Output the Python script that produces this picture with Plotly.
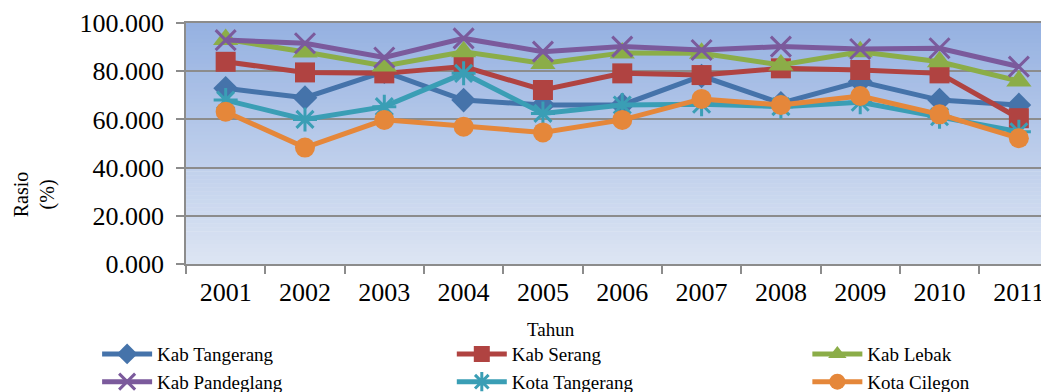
import plotly.graph_objects as go

years = ["2001", "2002", "2003", "2004", "2005", "2006", "2007", "2008", "2009", "2010", "2011"]

kab_tangerang = [72.9, 69.0, 79.8, 68.0, 66.0, 66.0, 78.0, 66.7, 75.7, 68.0, 66.0]
kab_serang = [83.9, 79.5, 79.1, 81.9, 72.2, 79.1, 78.4, 81.2, 80.5, 79.1, 60.5]
kab_lebak = [93.2, 88.0, 82.2, 88.1, 83.2, 87.6, 87.4, 82.6, 88.1, 83.9, 75.9]
kab_pandeglang = [92.9, 91.6, 85.7, 93.6, 88.1, 90.2, 88.8, 90.2, 89.2, 89.5, 81.9]
kota_tangerang = [68.0, 60.0, 65.3, 79.1, 62.5, 66.0, 66.3, 65.3, 67.1, 61.1, 54.9]
kota_cilegon = [63.2, 48.3, 59.8, 57.0, 54.6, 59.8, 68.5, 66.0, 69.7, 62.1, 52.2]

series_names = ["Kab Tangerang", "Kab Serang", "Kab Lebak", "Kab Pandeglang", "Kota Tangerang", "Kota Cilegon"]
series_values = [kab_tangerang, kab_serang, kab_lebak, kab_pandeglang, kota_tangerang, kota_cilegon]

colors = ["#4573AA", "#B04341", "#8BAD48", "#7B5A9C", "#3A9EB5", "#E5873A"]
symbols = ["diamond", "square", "triangle-up", "x-thin-open", "asterisk-open", "circle"]
sizes = [19, 20, 22, 20, 20, 20]
legend_ids = ["legend", "legend2", "legend3", "legend", "legend2", "legend3"]

FONT = "Liberation Serif, Times New Roman, serif"

fig = go.Figure()
for name, vals, c, s, sz, lg in zip(series_names, series_values, colors, symbols, sizes, legend_ids):
    open_sym = s.endswith("open")
    fig.add_trace(go.Scatter(
        x=years, y=vals, name=name, mode="lines+markers", legend=lg,
        line=dict(color=c, width=5),
        marker=dict(symbol=s, size=sz, color=c,
                    line=dict(color=c, width=3 if open_sym else 0)),
    ))

# vertical gradient background of the plot area
n = 60
top = (0x95, 0xB1, 0xE1)
bot = (0xDD, 0xE5, 0xF3)
shapes = []
for i in range(n):
    t = (i + 0.5) / n
    col = tuple(round(bot[k] + (top[k] - bot[k]) * t) for k in range(3))
    shapes.append(dict(type="rect", xref="x domain", yref="y domain",
                       x0=0, x1=1, y0=i / n, y1=(i + 1) / n + 0.002,
                       fillcolor="rgb(%d,%d,%d)" % col, line=dict(width=0), layer="below"))

leg_common = dict(orientation="v", xanchor="left", y=-0.295, yanchor="top",
                  font=dict(family=FONT, size=19), itemwidth=50, tracegroupgap=0,
                  bgcolor="rgba(0,0,0,0)")

# page body has an 8px margin, so the figure is 8px smaller in each direction
fig.update_layout(
    width=1041, height=384,
    margin=dict(l=178, r=0, t=15, b=128, autoexpand=False),
    paper_bgcolor="white",
    plot_bgcolor="rgba(0,0,0,0)",
    shapes=shapes,
    font=dict(family=FONT, color="black"),
    showlegend=True,
    legend=dict(x=-0.103, **leg_common),
    legend2=dict(x=0.308, **leg_common),
    legend3=dict(x=0.720, **leg_common),
    annotations=[
        dict(text="Tahun", xref="paper", yref="paper", x=0.423, y=-0.27, showarrow=False,
             font=dict(family=FONT, size=19), xanchor="center", yanchor="middle"),
        dict(text="Rasio<br>(%)", xref="paper", yref="paper", x=-0.176, y=0.29, showarrow=False,
             textangle=-90, font=dict(family=FONT, size=20), xanchor="center", yanchor="middle"),
    ],
)

fig.update_xaxes(
    type="category", range=[-0.5, 10.38], tickson="boundaries",
    ticks="outside", ticklen=8, tickcolor="#8c8c8c", tickwidth=1.5,
    showline=True, linecolor="#8c8c8c", linewidth=1.5, mirror=True,
    showgrid=False, tickfont=dict(family=FONT, size=26), ticklabelstandoff=4,
)
fig.update_yaxes(
    range=[0, 100], dtick=20, tickformat=".3f",
    ticks="outside", ticklen=8, tickcolor="#8c8c8c", tickwidth=1.5,
    showline=True, linecolor="#8c8c8c", linewidth=1.5,
    showgrid=True, gridcolor="#8c8c8c", gridwidth=1.5, zeroline=False,
    tickfont=dict(family=FONT, size=26), ticklabelstandoff=7,
)

fig.write_html("out.html")
